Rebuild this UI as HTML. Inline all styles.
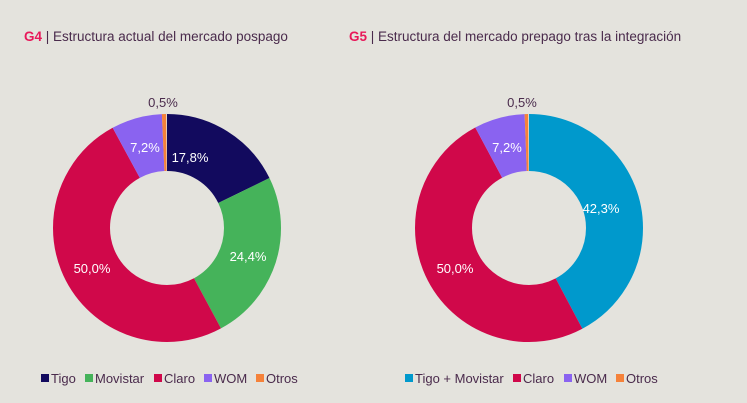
<!DOCTYPE html><html><head><meta charset="utf-8"><style>
body{margin:0;background:#e4e3dd;}
svg{display:block;font-family:"Liberation Sans",sans-serif;}
</style></head><body>
<svg width="747" height="403" viewBox="0 0 747 403">
<rect width="747" height="403" fill="#e4e3dd"/>
<text x="24" y="41" font-size="13.5" fill="#4a2b4c"><tspan fill="#e8185a" font-weight="bold">G4</tspan> | Estructura actual del mercado pospago</text>
<text x="349" y="41" font-size="13.5" fill="#4a2b4c"><tspan fill="#e8185a" font-weight="bold">G5</tspan> | Estructura del mercado prepago tras la integración</text>
<g transform="rotate(-90 167 228)" fill="none" stroke-width="57">
<circle cx="167" cy="228" r="85.5" pathLength="100" stroke="#120a5e" stroke-dasharray="17.8 100" stroke-dashoffset="0"/>
<circle cx="167" cy="228" r="85.5" pathLength="100" stroke="#45b35a" stroke-dasharray="24.4 100" stroke-dashoffset="-17.8"/>
<circle cx="167" cy="228" r="85.5" pathLength="100" stroke="#d0084a" stroke-dasharray="50 100" stroke-dashoffset="-42.2"/>
<circle cx="167" cy="228" r="85.5" pathLength="100" stroke="#8a63f0" stroke-dasharray="7.2 100" stroke-dashoffset="-92.2"/>
<circle cx="167" cy="228" r="85.5" pathLength="100" stroke="#f5823a" stroke-dasharray="0.6 100" stroke-dashoffset="-99.4"/>
</g>
<g transform="rotate(-90 529 228)" fill="none" stroke-width="57">
<circle cx="529" cy="228" r="85.5" pathLength="100" stroke="#0099cc" stroke-dasharray="42.3 100" stroke-dashoffset="0"/>
<circle cx="529" cy="228" r="85.5" pathLength="100" stroke="#d0084a" stroke-dasharray="50 100" stroke-dashoffset="-42.3"/>
<circle cx="529" cy="228" r="85.5" pathLength="100" stroke="#8a63f0" stroke-dasharray="7.2 100" stroke-dashoffset="-92.3"/>
<circle cx="529" cy="228" r="85.5" pathLength="100" stroke="#f5823a" stroke-dasharray="0.5 100" stroke-dashoffset="-99.5"/>
</g>
<g font-size="13" fill="#fff" text-anchor="middle">
<text x="190" y="162">17,8%</text><text x="248" y="261">24,4%</text><text x="92" y="273">50,0%</text><text x="145" y="152">7,2%</text>
<text x="601" y="213">42,3%</text><text x="455" y="273">50,0%</text><text x="507" y="152">7,2%</text>
</g>
<g font-size="13" fill="#4a2b4c" text-anchor="middle">
<text x="163" y="107">0,5%</text><text x="522" y="107">0,5%</text>
</g>
<g font-size="13" fill="#4a2b4c">
<rect x="41" y="374" width="8" height="8" fill="#120a5e"/><text x="51" y="383">Tigo</text>
<rect x="85" y="374" width="8" height="8" fill="#45b35a"/><text x="95" y="383">Movistar</text>
<rect x="154" y="374" width="8" height="8" fill="#d0084a"/><text x="164" y="383">Claro</text>
<rect x="204" y="374" width="8" height="8" fill="#8a63f0"/><text x="214" y="383">WOM</text>
<rect x="256" y="374" width="8" height="8" fill="#f5823a"/><text x="266" y="383">Otros</text>
<rect x="405" y="374" width="8" height="8" fill="#0099cc"/><text x="415" y="383">Tigo + Movistar</text>
<rect x="513" y="374" width="8" height="8" fill="#d0084a"/><text x="523" y="383">Claro</text>
<rect x="564" y="374" width="8" height="8" fill="#8a63f0"/><text x="574" y="383">WOM</text>
<rect x="616" y="374" width="8" height="8" fill="#f5823a"/><text x="626" y="383">Otros</text>
</g>
</svg>
</body></html>
